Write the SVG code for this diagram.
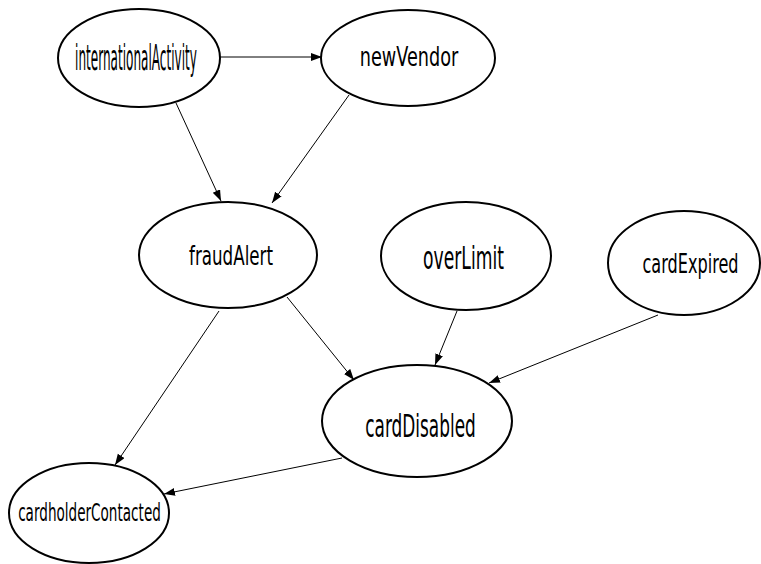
<svg xmlns="http://www.w3.org/2000/svg" width="761" height="564" viewBox="0 0 761 564">
<style>
.node ellipse{fill:#fff;stroke:#000;stroke-width:2}
.node text{font-family:"DejaVu Sans",sans-serif;fill:#000;text-anchor:middle}
#edges line{stroke:#000;stroke-width:1;marker-end:url(#arrow)}
</style>
<defs>
<marker id="arrow" markerUnits="userSpaceOnUse" markerWidth="12" markerHeight="9" refX="11" refY="4" orient="auto">
<path d="M0,0 L11,4 L0,8 z" fill="#000"/>
</marker>
</defs>
<rect width="761" height="564" fill="#fff"/>
<g id="edges">
<line x1="220" y1="57" x2="322" y2="57"/>
<line x1="176" y1="103" x2="221" y2="201"/>
<line x1="349" y1="95" x2="272" y2="203"/>
<line x1="219" y1="311" x2="115" y2="465"/>
<line x1="287" y1="297" x2="354" y2="380"/>
<line x1="457" y1="311" x2="435" y2="365"/>
<line x1="658" y1="315" x2="489" y2="383"/>
<line x1="342" y1="458" x2="164" y2="494"/>
</g>
<g id="internationalActivity" class="node">
<ellipse cx="139" cy="58" rx="81" ry="49"/>
<text transform="translate(136,70) scale(0.335,1)" font-size="36">internationalActivity</text>
</g>
<g id="newVendor" class="node">
<ellipse cx="408" cy="58" rx="87" ry="48"/>
<text transform="translate(409,66) scale(0.68,1)" font-size="26">newVendor</text>
</g>
<g id="fraudAlert" class="node">
<ellipse cx="228" cy="255" rx="89" ry="53"/>
<text transform="translate(231,265) scale(0.643,1)" font-size="26">fraudAlert</text>
</g>
<g id="overLimit" class="node">
<ellipse cx="466" cy="256" rx="85" ry="54"/>
<text transform="translate(463.5,269) scale(0.537,1)" font-size="32">overLimit</text>
</g>
<g id="cardExpired" class="node">
<ellipse cx="684" cy="263" rx="76" ry="52"/>
<text transform="translate(690.5,273) scale(0.62,1)" font-size="26">cardExpired</text>
</g>
<g id="cardDisabled" class="node">
<ellipse cx="417" cy="421" rx="95" ry="56"/>
<text transform="translate(420.5,437) scale(0.529,1)" font-size="32">cardDisabled</text>
</g>
<g id="cardholderContacted" class="node">
<ellipse cx="89" cy="513" rx="80" ry="50"/>
<text transform="translate(89.5,521) scale(0.543,1)" font-size="25">cardholderContacted</text>
</g>
</svg>
